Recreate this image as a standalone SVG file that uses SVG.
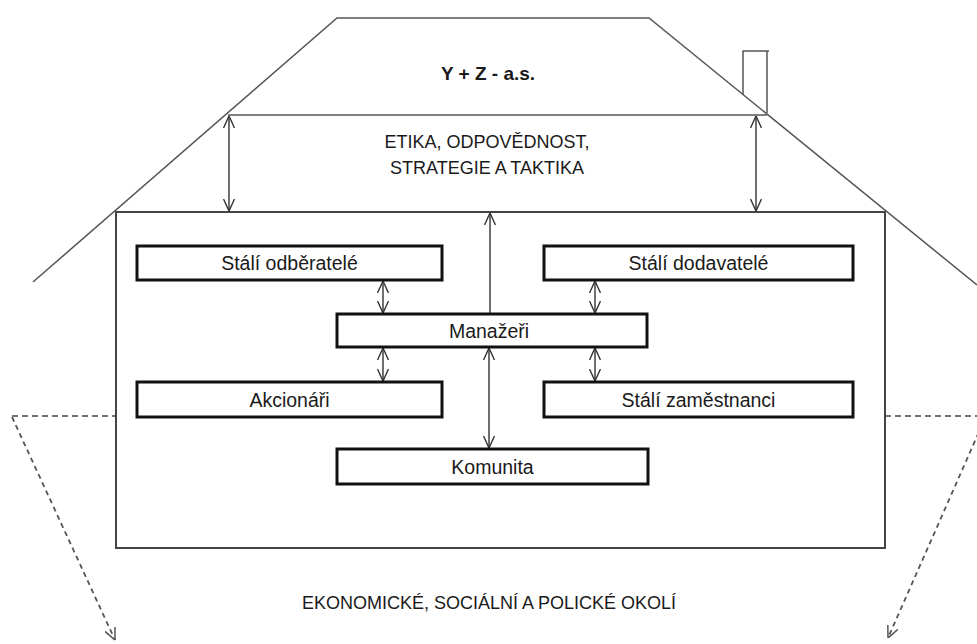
<svg xmlns="http://www.w3.org/2000/svg" width="977" height="644" viewBox="0 0 977 644">
<style>
  .roof { fill: none; stroke: #555; stroke-width: 1.5; }
  .outer { fill: none; stroke: #444; stroke-width: 2; }
  .node rect { fill: #fff; stroke: #111; stroke-width: 3; }
  .node text, .lbl { font-family: "Liberation Sans", Arial, sans-serif; font-size: 18px; fill: #1a1a1a; text-anchor: middle; }
  .node text { font-size: 19.5px; }
  .title { font-weight: bold; font-size: 19px; }
  .arr { fill: none; stroke: #333; stroke-width: 1.4; marker-start: url(#ah); marker-end: url(#ah); }
  .arr1 { fill: none; stroke: #333; stroke-width: 1.4; marker-end: url(#ah); }
  .dash { fill: none; stroke: #444; stroke-width: 1.5; stroke-dasharray: 6 4; }
  .dashd { fill: none; stroke: #555; stroke-width: 1.8; stroke-dasharray: 5 4; marker-end: url(#ahd); }
</style>
<defs>
  <marker id="ah" viewBox="0 0 12 12" refX="12" refY="6" markerWidth="12" markerHeight="12" markerUnits="userSpaceOnUse" orient="auto-start-reverse">
    <path d="M0,0.5 L12,6 L0,11.5" fill="none" stroke="#333" stroke-width="1.4"/>
  </marker>
  <marker id="ahd" viewBox="0 0 12 12" refX="12" refY="6" markerWidth="12" markerHeight="12" markerUnits="userSpaceOnUse" orient="auto">
    <path d="M0,0.5 L12,6 L0,11.5" fill="none" stroke="#555" stroke-width="1.5"/>
  </marker>
</defs>
<rect width="977" height="644" fill="#fff"/>

<g id="house">
  <polyline class="roof" points="33,282 337,18 649,18 977,285"/>
  <line class="roof" x1="228" y1="115" x2="767" y2="115"/>
  <polyline class="roof" points="743,95 743,51 769,51"/>
  <line class="roof" x1="767" y1="51" x2="767" y2="113"/>
  <rect class="outer" x="116" y="212" width="769" height="336"/>
  <text class="lbl title" x="488" y="80">Y + Z - a.s.</text>
  <text class="lbl" x="487" y="148">ETIKA, ODPOVĚDNOST,</text>
  <text class="lbl" x="487" y="174">STRATEGIE A TAKTIKA</text>
  <text class="lbl" x="489" y="609">EKONOMICKÉ, SOCIÁLNÍ A POLICKÉ OKOLÍ</text>
</g>

<g id="connectors">
  <line class="arr" x1="229" y1="116" x2="229" y2="211"/>
  <line class="arr" x1="756" y1="116" x2="756" y2="211"/>
  <line class="arr1" x1="490" y1="314" x2="490" y2="213"/>
  <line class="arr" x1="383" y1="281" x2="383" y2="313"/>
  <line class="arr" x1="383" y1="348" x2="383" y2="381"/>
  <line class="arr" x1="595" y1="281" x2="595" y2="313"/>
  <line class="arr" x1="595" y1="348" x2="595" y2="381"/>
  <line class="arr" x1="489" y1="348" x2="489" y2="448"/>
  <line class="dash" x1="12" y1="416" x2="116" y2="416"/>
  <line class="dash" x1="885" y1="416" x2="977" y2="416"/>
  <line class="dashd" x1="12" y1="417" x2="115" y2="640"/>
  <line class="dashd" x1="986" y1="416" x2="888" y2="638"/>
</g>

<g id="n-odberatele" class="node">
  <rect x="137" y="246" width="305" height="34"/>
  <text x="289.5" y="270">Stálí odběratelé</text>
</g>
<g id="n-dodavatele" class="node">
  <rect x="544" y="246" width="309" height="34"/>
  <text x="698.5" y="270">Stálí dodavatelé</text>
</g>
<g id="n-manazeri" class="node">
  <rect x="337" y="314" width="310" height="33"/>
  <text x="489" y="337.5">Manažeři</text>
</g>
<g id="n-akcionari" class="node">
  <rect x="137" y="382" width="305" height="35"/>
  <text x="289.5" y="406.5">Akcionáři</text>
</g>
<g id="n-zamestnanci" class="node">
  <rect x="544" y="382" width="309" height="35"/>
  <text x="698.5" y="406.5">Stálí zaměstnanci</text>
</g>
<g id="n-komunita" class="node">
  <rect x="337" y="449" width="311" height="35"/>
  <text x="492.5" y="473.5">Komunita</text>
</g>
</svg>
